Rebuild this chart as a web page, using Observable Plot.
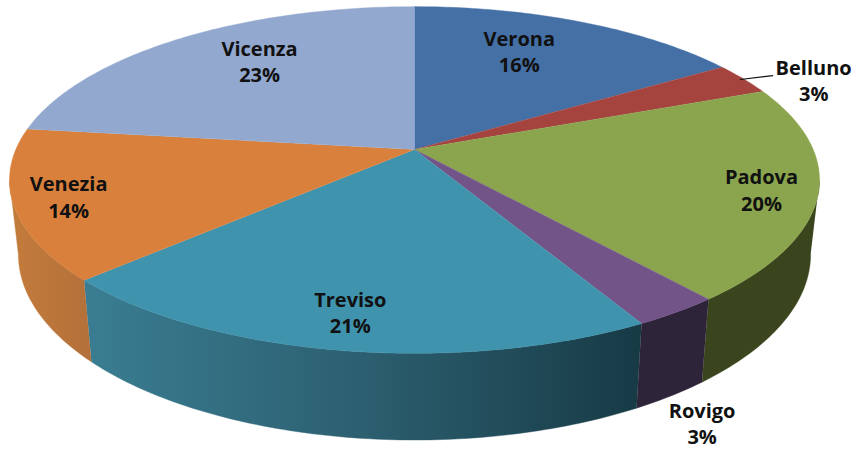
<!DOCTYPE html>
<html>
<head>
<meta charset="utf-8">
<script src="https://cdn.jsdelivr.net/npm/d3@7"></script>
<script src="https://cdn.jsdelivr.net/npm/@observablehq/plot@0.6"></script>
<style>html,body{margin:0;padding:0;background:#fff}svg{display:block}</style>
</head>
<body>
<div id="chart"></div>
<script>
const provinces = ["Verona", "Belluno", "Padova", "Rovigo", "Treviso", "Venezia", "Vicenza"];
const shares = [16, 3, 20, 3, 21, 14, 23];
const topColors = ["#4470a6", "#a5433f", "#8aa54d", "#735489", "#3f93ad", "#d9803c", "#93a8cf"];
const wallStops = [null, null, ["#3a451d", "#3a451d"], ["#2e2439", "#2e2439"], ["#3a7d92", "#2c5f70", "#173a45"], ["#c47c3b", "#b3703a"], null];
// label placement, as a position round the pie (percent) and a reach from its centre (1 = rim)
const labelTurn = [6.8, 18.9, 29.4, 43.4, 52.6, 69.9, 89.75];
const labelReach = [0.706, 1.162, 0.867, 1.39, 0.845, 0.87, 0.712];

// Perspective view of a tilted disc
const view = {cx: 414, cy: 149, a: 398.7, b: 168, k: 0.1758};
const project = (pct, r = 1) => {
  const t = pct / 100 * 2 * Math.PI, u = r * Math.sin(t), w = r * Math.cos(t), d = 1 + view.k * w;
  return {x: view.cx + view.a * u / d, y: view.cy - view.b * w / d};
};
const drop = p => ({x: view.cx + 0.978 * (p.x - view.cx), y: 1.07 * p.y + 62});
const arc = (p0, p1) => {
  const n = Math.ceil((p1 - p0) * 4);
  return d3.range(n + 1).map(j => project(p0 + j / n * (p1 - p0)));
};

// the side wall is visible only between the two points where the rim turns away
const tangent = Math.acos(-view.k) / (2 * Math.PI) * 100;
const starts = d3.cumsum([0, ...shares]);
const faces = [], walls = [];
provinces.forEach((name, i) => {
  faces.push({i, pts: [{x: view.cx, y: view.cy}, ...arc(starts[i], starts[i + 1])]});
  if (wallStops[i]) {
    const rim = arc(Math.max(starts[i], tangent), Math.min(starts[i + 1], 100 - tangent));
    walls.push({i, pts: [...rim, ...rim.map(drop).reverse()]});
  }
});
const labels = provinces.map((name, i) => ({...project(labelTurn[i], labelReach[i]), text: `${name}\n${shares[i]}%`}));
const leader = [project(17.5, 0.99), project(17.75, 1.084)];

const gradients = () => {
  const defs = d3.create("svg:defs");
  wallStops.forEach((stops, i) => {
    if (!stops) return;
    const g = defs.append("linearGradient").attr("id", "wall" + i);
    stops.forEach((c, j) => g.append("stop").attr("offset", j / (stops.length - 1)).attr("stop-color", c));
  });
  return defs.node();
};

const chart = Plot.plot({
  width: 855, height: 450, margin: 0,
  x: {domain: [0, 855], range: [0, 855], axis: null},
  y: {domain: [0, 450], range: [0, 450], axis: null},
  marks: [
    gradients,
    ...walls.map(w => Plot.line(w.pts, {x: "x", y: "y", fill: `url(#wall${w.i})`, stroke: `url(#wall${w.i})`, strokeWidth: 0.4})),
    ...faces.map(f => Plot.line(f.pts, {x: "x", y: "y", fill: topColors[f.i], stroke: topColors[f.i], strokeWidth: 0.4})),
    Plot.line(leader, {x: "x", y: "y", stroke: "#111", strokeWidth: 1.2}),
    Plot.text(labels, {x: "x", y: "y", dy: -2, text: "text", fontFamily: "Open Sans", fontWeight: 700, fontSize: 20, lineHeight: 1.32, fill: "#111"})
  ]
});
document.getElementById("chart").append(chart);
</script>
</body>
</html>
